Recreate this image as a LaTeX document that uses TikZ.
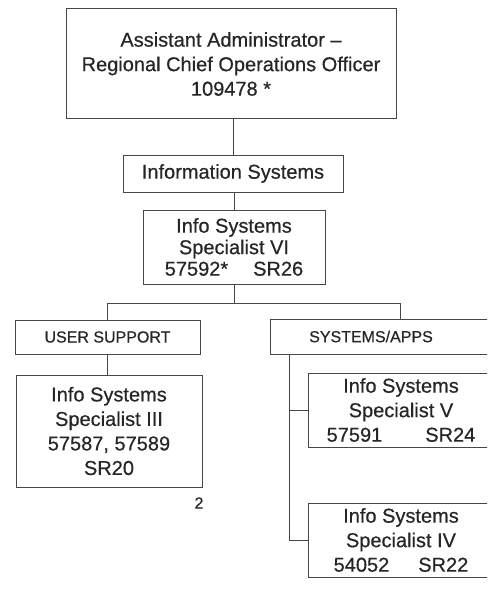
\documentclass[tikz,border=0pt]{standalone}
\usepackage{fontspec}
\setmainfont{Liberation Sans}[FakeBold=0.5]
\begin{document}
\begin{tikzpicture}[x=1pt,y=-1pt,
  box/.style={draw=black!72, line width=1pt, rectangle, inner sep=0pt, align=center, text=black!85},
  big/.style={font=\fontsize{20}{24.5}\selectfont},
  small/.style={font=\fontsize{16}{19}\selectfont},
  link/.style={draw=black!72, line width=1pt}]
\useasboundingbox (0,0) rectangle (487,599);
\clip (0,0) rectangle (487,599);
\node[box,big,minimum width=330,minimum height=110] (top) at (231,64) {Assistant Administrator \textendash\\Regional Chief Operations Officer\\109478 *};
\node[box,big,minimum width=220,minimum height=37] (info) at (233,173.5) {Information Systems};
\node[box,font=\fontsize{20}{21.5}\selectfont,minimum width=182,minimum height=74] (spec6) at (234,247) {Info Systems\\Specialist VI\\57592*\hspace{25pt}SR26};
\node[box,small,minimum width=185,minimum height=34] (user) at (107.5,337) {USER SUPPORT};
\node[box,small,minimum width=222,minimum height=35] (sys) at (381,336.5) {SYSTEMS/APPS\hspace*{20pt}};
\node[box,big,minimum width=186,minimum height=112] (spec3) at (109,431) {Info Systems\\Specialist III\\57587, 57589\\SR20};
\node[box,big,minimum width=186,minimum height=74] (spec5) at (401,410) {Info Systems\\Specialist V\\57591\hspace{43pt}SR24};
\node[box,big,minimum width=186,minimum height=74] (spec4) at (401,540) {Info Systems\\Specialist IV\\54052\hspace{29pt}SR22};
\node[small,text=black!85] (pg) at (199,503) {2};
\coordinate (busR) at (400,303);
\coordinate (trunk) at (289,0);
\draw[link] (top.south -| info.north) -- (info.north);
\draw[link] (spec6.north) -- (spec6.north |- info.south);
\draw[link] (spec6.south) -- (spec6.south |- busR);
\draw[link] (user.north) |- (busR) -- (busR |- sys.north);
\draw[link] (user.south) -- (user.south |- spec3.north);
\draw[link] (trunk |- sys.south) |- (spec4.west);
\draw[link] (trunk |- spec5.west) -- (spec5.west);
\end{tikzpicture}
\end{document}
